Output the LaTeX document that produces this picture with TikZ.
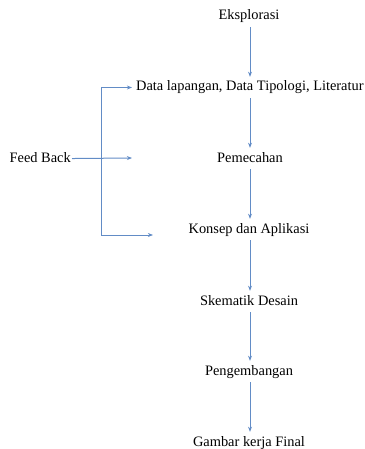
\documentclass[tikz,border=0pt]{standalone}
\usepackage{fontspec}
\setmainfont{Liberation Serif}
\usetikzlibrary{arrows.meta}
\definecolor{alur}{RGB}{98,140,198}

\begin{document}
\begin{tikzpicture}[x=1pt,y=-1pt,
	langkah/.style={font=\fontsize{14.4}{16}\selectfont,anchor=base,inner sep=4pt,
		text height=10pt,text depth=3pt},
	alir/.style={draw=alur,line width=0.8pt,-{Stealth[length=1.8mm,width=1.4mm]}}]
	\useasboundingbox (0,0) rectangle (364,449);
	% tahapan utama
	\node [langkah] (eks) at (249,20) {Eksplorasi};
	\node [langkah,anchor=base west] (data) at (132,91) {Data lapangan, Data Tipologi, Literatur};
	\node [langkah] (pem) at (250,162) {Pemecahan};
	\node [langkah] (kon) at (249,233) {Konsep dan Aplikasi};
	\node [langkah] (ske) at (249,305) {Skematik Desain};
	\node [langkah] (pen) at (249,375) {Pengembangan};
	\node [langkah] (gam) at (249,446) {Gambar kerja Final};
	\node [langkah,anchor=base east] (fb) at (75,162) {Feed Back};

	\draw [alir] (eks.south -| 250,0) -- (data.north -| 250,0);
	\draw [alir] (data.south -| 250,0) -- (pem.north -| 250,0);
	\draw [alir] (pem.south -| 250,0) -- (kon.north -| 250,0);
	\draw [alir] (kon.south -| 250,0) -- (ske.north -| 250,0);
	\draw [alir] (ske.south -| 250,0) -- (pen.north -| 250,0);
	\draw [alir] (pen.south -| 250,0) -- (gam.north -| 250,0);

	% umpan balik
	\coordinate (tengah) at (132,158);
	\coordinate (sudut) at (101,235);
	\coordinate (bawah) at (153,235);
	\draw [alir,line width=1pt,shorten <=-3pt] (fb.east) -- (tengah);
	\draw [alir] (sudut) |- (data.west);
	\draw [alir] (sudut) -- (bawah);
\end{tikzpicture}
\end{document}
